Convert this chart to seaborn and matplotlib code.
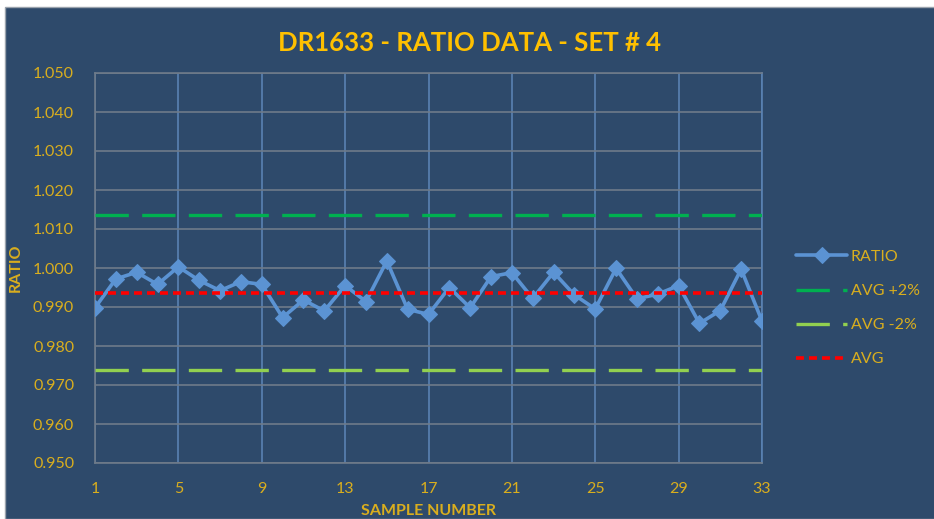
import pandas as pd
import seaborn as sns
import matplotlib.pyplot as plt
from matplotlib.patches import Rectangle

samples = list(range(1, 34))
ratio = [0.9898, 0.9972, 0.9989, 0.9958, 1.0003, 0.9968, 0.9942, 0.9965, 0.9958,
         0.9873, 0.9918, 0.9890, 0.9955, 0.9914, 1.0018, 0.9894, 0.9881, 0.9950,
         0.9898, 0.9978, 0.9988, 0.9922, 0.9989, 0.9931, 0.9895, 0.9999, 0.9921,
         0.9933, 0.9955, 0.9858, 0.9891, 0.9997, 0.9864]
avg_value = 0.9937
avg_plus = 1.0136
avg_minus = 0.9738

x_ticks = [1, 5, 9, 13, 17, 21, 25, 29, 33]
y_ticks = [0.95, 0.96, 0.97, 0.98, 0.99, 1.00, 1.01, 1.02, 1.03, 1.04, 1.05]

BG = "#2E4A6B"
GOLD = "#D9AE1E"
TITLE = "#FFC000"

df = pd.DataFrame({
    "sample": samples,
    "RATIO": ratio,
    "AVG +2%": [avg_plus] * len(samples),
    "AVG -2%": [avg_minus] * len(samples),
    "AVG": [avg_value] * len(samples),
})

sns.set_style("white")
plt.rcParams["font.family"] = ["Lato", "DejaVu Sans"]

fig = plt.figure(figsize=(9.34, 5.19), dpi=100, facecolor="white")
fig.patches.append(Rectangle((5 / 934, 0), 1, 1 - 7 / 519, transform=fig.transFigure,
                             facecolor=BG, edgecolor="#9AA3AD", linewidth=1, zorder=-10))
ax = fig.add_axes([95 / 934, 1 - 463 / 519, 667 / 934, 390 / 519])
ax.set_facecolor(BG)

sns.lineplot(data=df, x="sample", y="RATIO", ax=ax, color="#5B93D3", linewidth=2.6,
             marker="D", markersize=8, markeredgecolor="#5B93D3", label="RATIO", zorder=3)
sns.lineplot(data=df, x="sample", y="AVG +2%", ax=ax, color="#00B050", linewidth=2.4,
             label="AVG +2%", zorder=4)
sns.lineplot(data=df, x="sample", y="AVG -2%", ax=ax, color="#92D050", linewidth=2.4,
             label="AVG -2%", zorder=4)
sns.lineplot(data=df, x="sample", y="AVG", ax=ax, color="#FF0000", linewidth=2.6,
             label="AVG", zorder=5)
lines = ax.get_lines()
lines[1].set_dashes([10, 4])
lines[2].set_dashes([10, 4])
lines[3].set_dashes([2.2, 1.4])

ax.set_xlim(1, 33)
ax.set_ylim(0.95, 1.05)
ax.set_xticks(x_ticks)
ax.set_yticks(y_ticks)
ax.set_yticklabels([f"{v:.3f}" for v in y_ticks])
ax.tick_params(axis="both", colors=GOLD, labelsize=11.5, length=0)
ax.tick_params(axis="x", pad=14)
ax.tick_params(axis="y", pad=15)

ax.xaxis.grid(True, color="#5A82B3", linewidth=1.2)
ax.yaxis.grid(True, color="#6E7B8A", linewidth=1.2)
for side in ["left", "bottom", "top"]:
    ax.spines[side].set_color("#6E7B8A")
    ax.spines[side].set_linewidth(1.2)
ax.spines["right"].set_color("#5A82B3")
ax.spines["right"].set_linewidth(1.2)

ax.set_xlabel("SAMPLE NUMBER", color=GOLD, fontsize=11.5, fontweight="bold")
ax.set_ylabel("RATIO", color=GOLD, fontsize=11.5, fontweight="bold")
ax.xaxis.set_label_coords(0.5, -0.105)
ax.yaxis.set_label_coords(-0.108, 0.5)
fig.text(470 / 934, 1 - 43 / 519, "DR1633 - RATIO DATA - SET # 4", color=TITLE,
         fontsize=18.5, fontweight="bold", ha="center", va="center")

leg = ax.legend(loc="center left", bbox_to_anchor=(1.03, 0.397), frameon=False,
                fontsize=11.5, labelcolor=GOLD, handlelength=3.2, labelspacing=1.25,
                handletextpad=0.2)

fig.savefig("out.png", dpi=100, facecolor=fig.get_facecolor())
